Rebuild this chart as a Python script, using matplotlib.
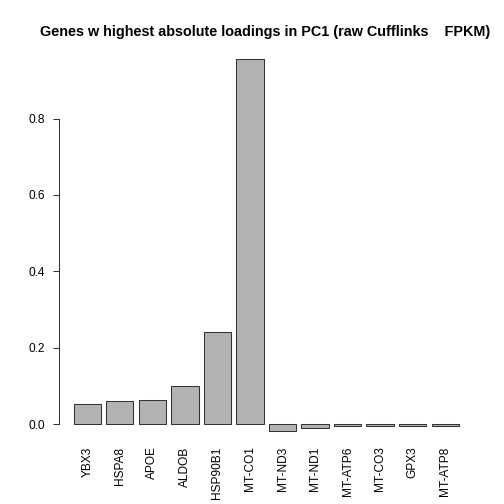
import numpy as np
import matplotlib
matplotlib.use('Agg')
import matplotlib.pyplot as plt

plt.rcParams['font.family'] = ['Liberation Sans', 'DejaVu Sans']

# loadings
genes = ['YBX3', 'HSPA8', 'APOE', 'ALDOB', 'HSP90B1', 'MT-CO1',
         'MT-ND3', 'MT-ND1', 'MT-ATP6', 'MT-CO3', 'GPX3', 'MT-ATP8']
loadings = [0.052, 0.061, 0.064, 0.100, 0.241, 0.956,
            -0.018, -0.011, -0.006, -0.005, -0.004, -0.004]
y_ticks = [0.0, 0.2, 0.4, 0.6, 0.8]

W = 504.0
fig = plt.figure(figsize=(5.04, 5.04), dpi=100)
# plot region in pixels: x 58.5..474, y 44.2..445.8
ax = fig.add_axes([58.5 / W, (W - 445.8) / W, (474 - 58.5) / W, (445.8 - 44.2) / W])

# R-style barplot: width 1, space 0.2
width = 1.0
space = 0.2
x = space + width / 2 + np.arange(len(genes)) * (width + space)
ax.bar(x, loadings, width=width, color='#b3b3b3', edgecolor='#333333', linewidth=0.75)

# 4% axis extension like R
lo, hi = x[0] - width / 2, x[-1] + width / 2
ext = 0.04 * (hi - lo)
ax.set_xlim(lo - ext, hi + ext)
ymin, ymax = min(min(loadings), 0), max(loadings)
yext = 0.04 * (ymax - ymin)
ax.set_ylim(ymin - yext, ymax + yext)

for s in ['top', 'right', 'bottom']:
    ax.spines[s].set_visible(False)
ax.spines['left'].set_bounds(y_ticks[0], y_ticks[-1])
ax.spines['left'].set_linewidth(0.75)
ax.spines['left'].set_color('#333333')

ax.set_yticks(y_ticks)
ax.set_yticklabels([f'{v:.1f}' for v in y_ticks])
ax.tick_params(axis='y', length=4.5, width=0.75, color='#333333', pad=5, labelsize=8.6)

ax.set_xticks(x)
ax.set_xticklabels(genes, rotation=90, fontsize=8.6)
ax.tick_params(axis='x', length=0, pad=0.5)

fig.text(265 / W, 1 - 32 / W, 'Genes w highest absolute loadings in PC1 (raw Cufflinks    FPKM)',
         ha='center', va='center', fontsize=10.4, fontweight='bold')

fig.savefig('out.png', dpi=100, facecolor='white')
